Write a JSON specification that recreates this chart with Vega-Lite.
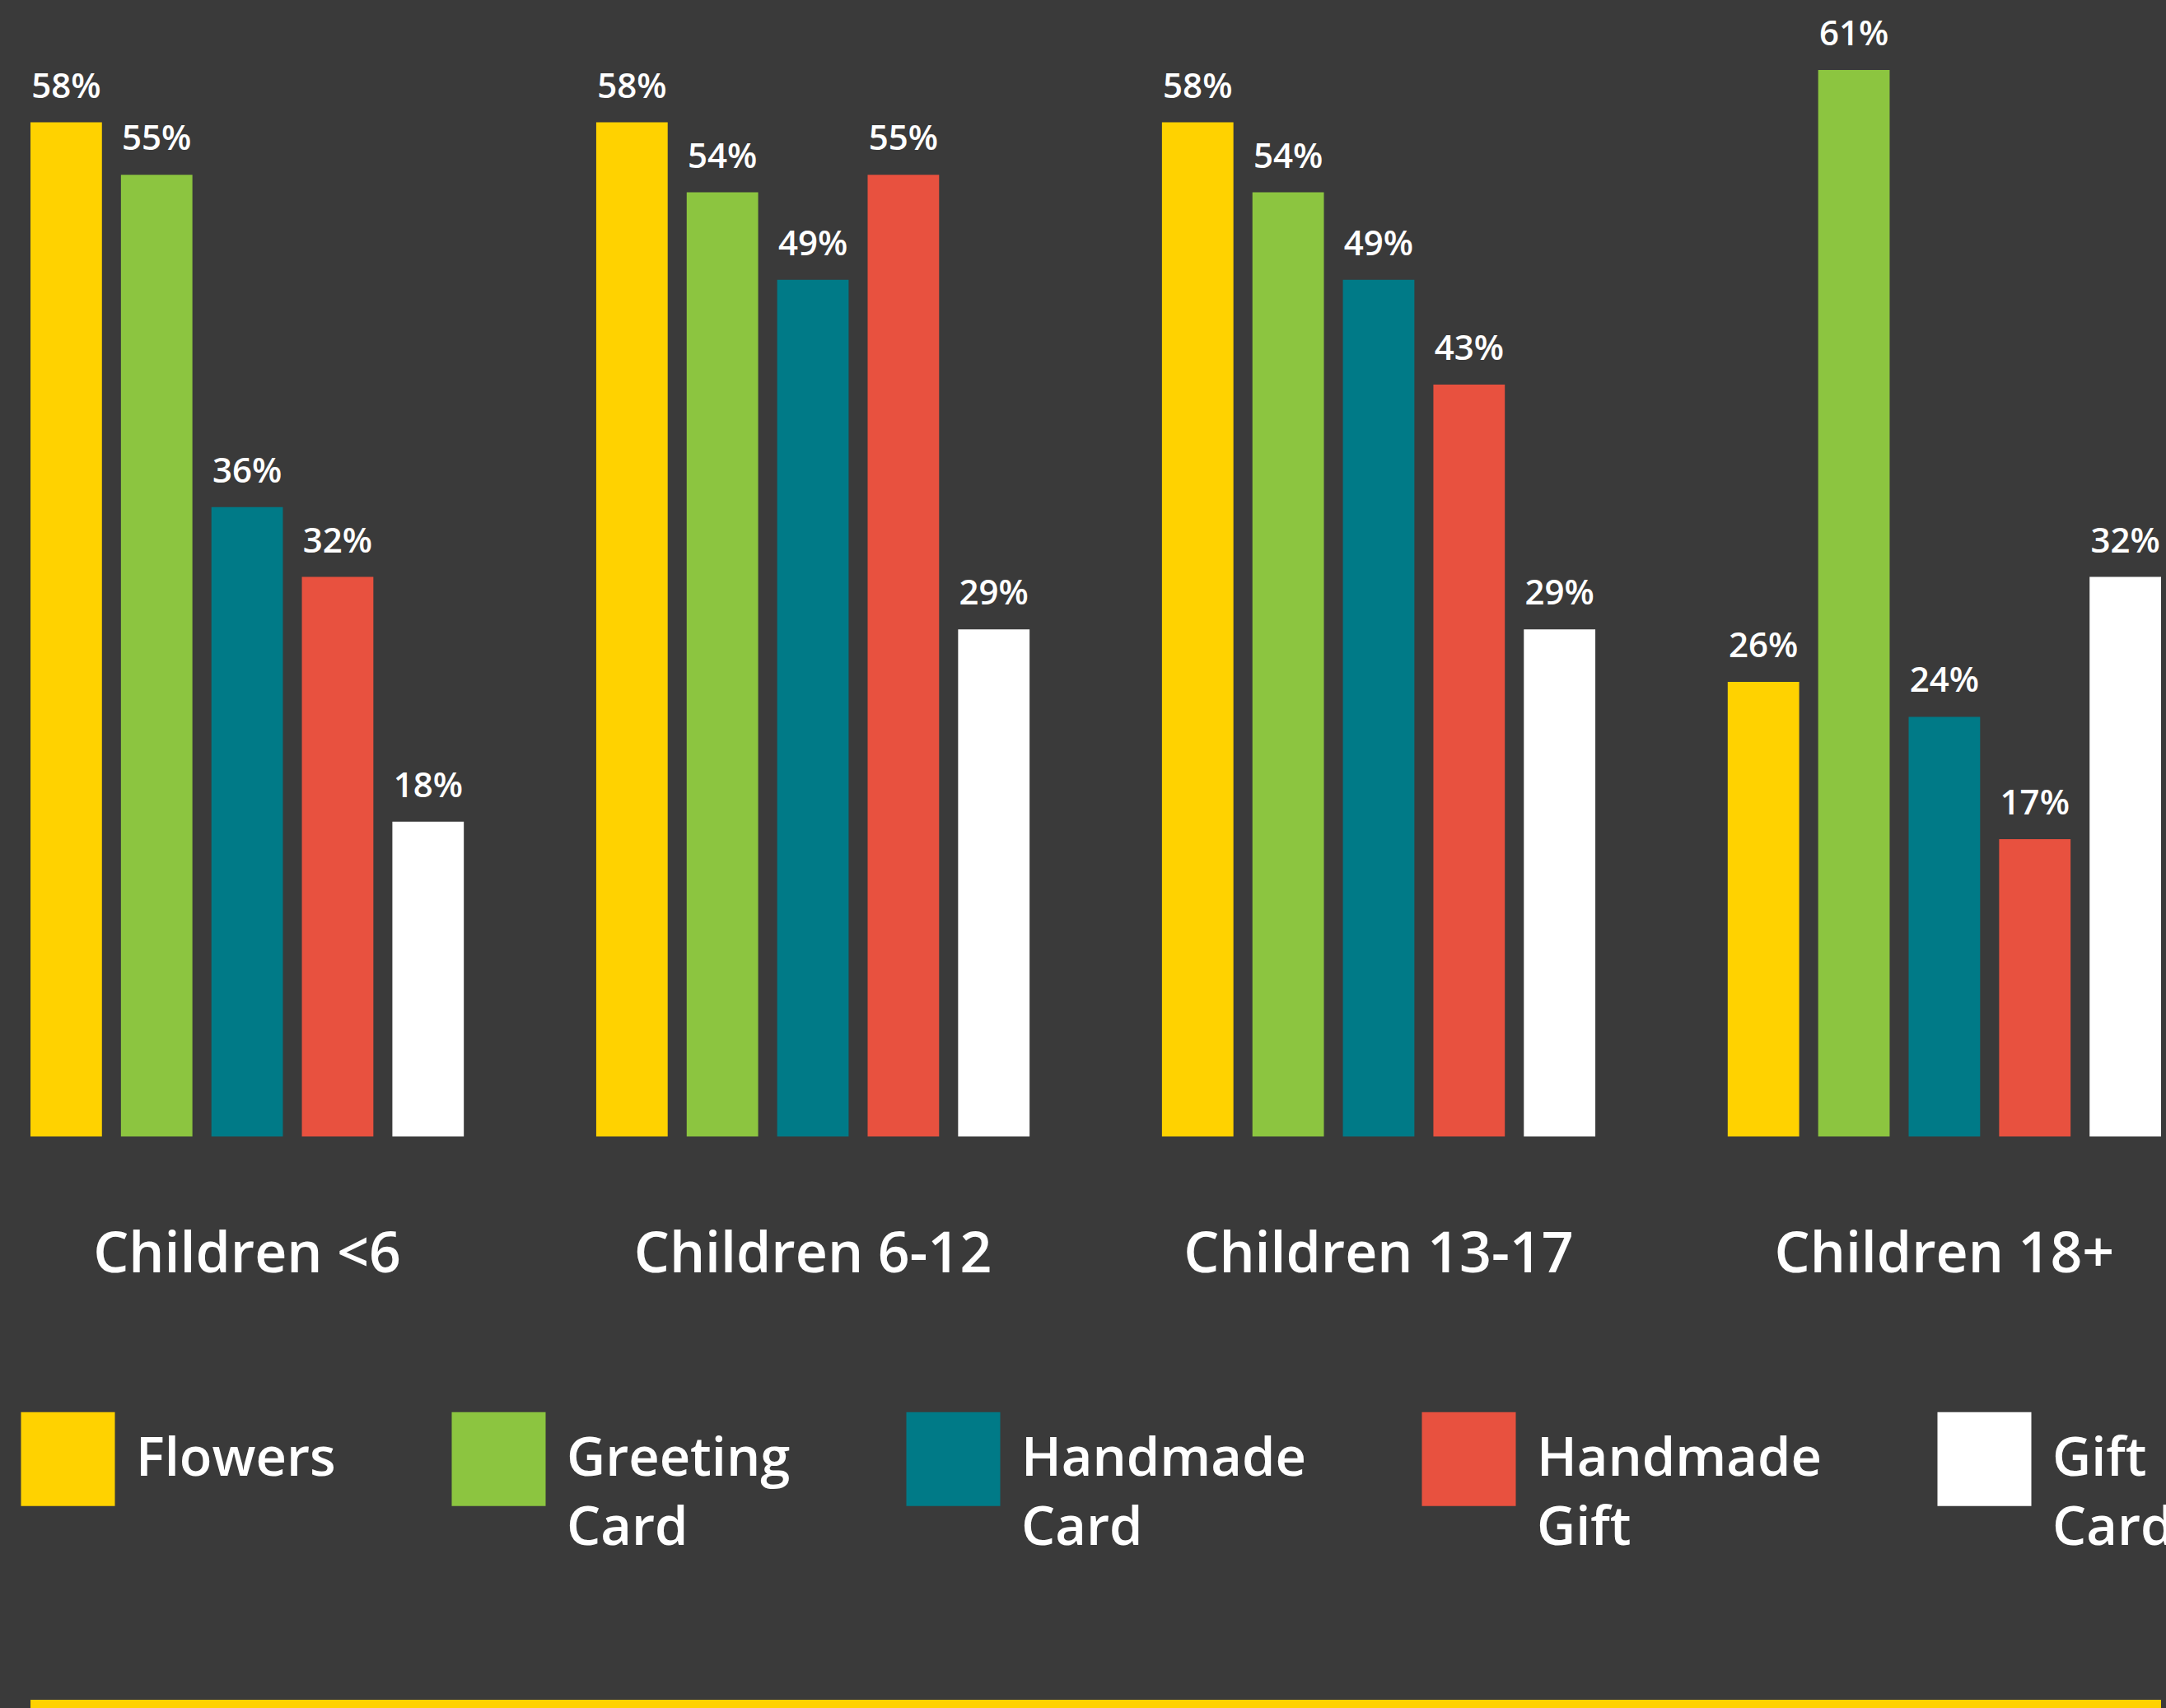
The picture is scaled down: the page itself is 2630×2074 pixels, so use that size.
{
  "$schema": "https://vega.github.io/schema/vega-lite/v6.json",
  "width": 2587,
  "height": 1380,
  "autosize": {"type": "none"},
  "padding": {"left": 37, "top": 0, "right": 6, "bottom": 694},
  "background": "#3a3a3a",
  "config": {"view": {"stroke": null}, "font": "Open Sans"},
  "data": {
    "values": [
      {"group": "Children <6", "category": "Flowers", "value": 0.58},
      {"group": "Children <6", "category": "Greeting Card", "value": 0.55},
      {"group": "Children <6", "category": "Handmade Card", "value": 0.36},
      {"group": "Children <6", "category": "Handmade Gift", "value": 0.32},
      {"group": "Children <6", "category": "Gift Card", "value": 0.18},
      {"group": "Children 6-12", "category": "Flowers", "value": 0.58},
      {"group": "Children 6-12", "category": "Greeting Card", "value": 0.54},
      {"group": "Children 6-12", "category": "Handmade Card", "value": 0.49},
      {"group": "Children 6-12", "category": "Handmade Gift", "value": 0.55},
      {"group": "Children 6-12", "category": "Gift Card", "value": 0.29},
      {"group": "Children 13-17", "category": "Flowers", "value": 0.58},
      {"group": "Children 13-17", "category": "Greeting Card", "value": 0.54},
      {"group": "Children 13-17", "category": "Handmade Card", "value": 0.49},
      {"group": "Children 13-17", "category": "Handmade Gift", "value": 0.43},
      {"group": "Children 13-17", "category": "Gift Card", "value": 0.29},
      {"group": "Children 18+", "category": "Flowers", "value": 0.26},
      {"group": "Children 18+", "category": "Greeting Card", "value": 0.61},
      {"group": "Children 18+", "category": "Handmade Card", "value": 0.24},
      {"group": "Children 18+", "category": "Handmade Gift", "value": 0.17},
      {"group": "Children 18+", "category": "Gift Card", "value": 0.32}
    ]
  },
  "layer": [
    {
      "mark": {"type": "bar"},
      "encoding": {
        "x": {
          "field": "group", "type": "nominal",
          "sort": ["Children <6", "Children 6-12", "Children 13-17", "Children 18+"],
          "scale": {"paddingInner": 0.234, "paddingOuter": 0},
          "axis": {
            "title": null, "domain": false, "ticks": false, "labelAngle": 0,
            "labelFont": "Open Sans", "labelFontWeight": 600,
            "labelFontSize": 68, "labelColor": "#ffffff", "labelPadding": 110, "labelLimit": 0
          }
        },
        "xOffset": {
          "field": "category", "type": "nominal",
          "sort": ["Flowers", "Greeting Card", "Handmade Card", "Handmade Gift", "Gift Card"],
          "scale": {"paddingInner": 0.21, "paddingOuter": 0}
        },
        "y": {"field": "value", "type": "quantitative", "scale": {"domain": [0, 0.65]}, "axis": null},
        "color": {
          "field": "category", "type": "nominal",
          "sort": ["Flowers", "Greeting Card", "Handmade Card", "Handmade Gift", "Gift Card"],
          "scale": {
            "domain": ["Flowers", "Greeting Card", "Handmade Card", "Handmade Gift", "Gift Card"],
            "range": ["#ffd200", "#8cc540", "#007a87", "#e8513f", "#ffffff"]
          },
          "legend": {
            "title": null, "orient": "none", "legendX": -12, "legendY": 1714,
            "direction": "horizontal", "columns": 5, "padding": 0, "offset": 0,
            "symbolType": "square", "symbolSize": 13000, "symbolStrokeWidth": 0, "symbolOpacity": 1,
            "labelFont": "Open Sans", "labelFontWeight": 600,
            "labelFontSize": 65, "labelColor": "#ffffff", "labelOffset": 25, "labelLimit": 0,
            "labelExpr": "datum.label == 'Flowers' ? ['Flowers', ' '] : split(datum.label, ' ')",
            "columnPadding": 140,
            "encode": {"labels": {"update": {"lineHeight": {"value": 84}}}}
          }
        }
      }
    },
    {
      "mark": {"type": "text", "baseline": "alphabetic", "dy": -30, "fontSize": 42, "fontWeight": 600, "color": "#ffffff"},
      "encoding": {
        "x": {"field": "group", "type": "nominal", "sort": ["Children <6", "Children 6-12", "Children 13-17", "Children 18+"]},
        "xOffset": {"field": "category", "type": "nominal", "sort": ["Flowers", "Greeting Card", "Handmade Card", "Handmade Gift", "Gift Card"]},
        "y": {"field": "value", "type": "quantitative"},
        "text": {"field": "value", "type": "quantitative", "format": ".0%"}
      }
    },
    {
      "data": {"values": [{}]},
      "mark": {"type": "rule", "color": "#ffd200", "strokeWidth": 12},
      "encoding": {"y": {"datum": -0.325}}
    }
  ]
}
